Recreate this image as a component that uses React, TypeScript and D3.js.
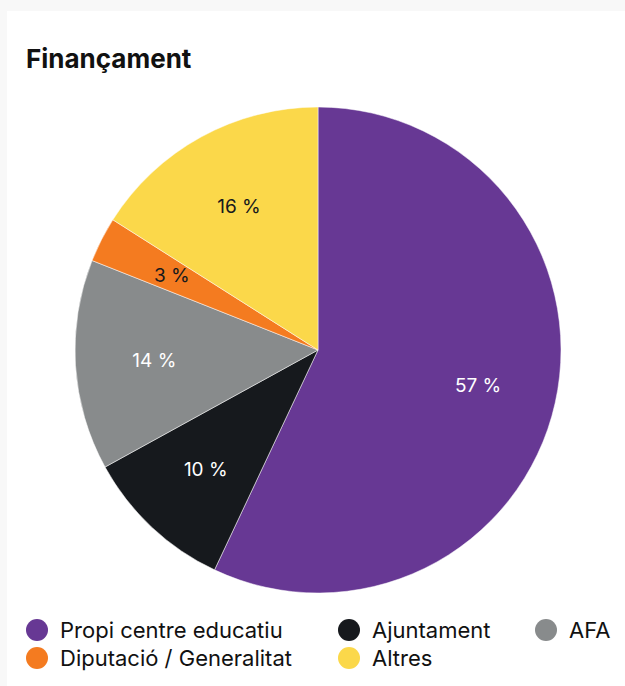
import React from "react";
import * as d3 from "d3";

const categories = ["Propi centre educatiu", "Ajuntament", "AFA", "Diputació / Generalitat", "Altres"];
const values = [57, 10, 14, 3, 16];
const colors = ["#673894", "#16191d", "#888b8c", "#f47b20", "#fbd84a"];
const labelColors = ["#ffffff", "#ffffff", "#ffffff", "#16191d", "#16191d"];
const legendOrder = [0, 1, 2, 3, 4];

export default function App() {
  const W = 625, H = 686;
  const cx = 318, cy = 350, R = 243;
  const pie = d3.pie<number>().sort(null).value((d) => d)(values);
  const arc = d3.arc<d3.PieArcDatum<number>>().innerRadius(0).outerRadius(R);
  const labelArc = d3.arc<d3.PieArcDatum<number>>().innerRadius(164).outerRadius(164);
  const font = "Inter, 'Noto Sans', sans-serif";
  const legendPos = [
    { x: 37, y: 630 },
    { x: 349, y: 630 },
    { x: 546, y: 630 },
    { x: 37, y: 658 },
    { x: 349, y: 658 },
  ];
  return (
    <svg width={W} height={H} style={{ position: "absolute", left: 0, top: 0, display: "block" }}>
      <rect x={0} y={0} width={W} height={H} fill="#f8f8f8" />
      <rect x={7} y={11} width={W - 7} height={H - 11} fill="#ffffff" />
      <text x={26} y={68} fontFamily={font} fontWeight={700} fontSize={26} fill="#111">
        Finançament
      </text>
      <g transform={`translate(${cx},${cy})`}>
        {pie.map((p, i) => (
          <path key={i} d={arc(p) || ""} fill={colors[i]} stroke="#ffffff" strokeWidth={0.5} />
        ))}
        {pie.map((p, i) => {
          const [x, y] = labelArc.centroid(p);
          return (
            <text key={i} x={x} y={y} dy="0.35em" textAnchor="middle" fontFamily={font} fontSize={19} fill={labelColors[i]}>
              {values[i]} %
            </text>
          );
        })}
      </g>
      {legendOrder.map((i, k) => (
        <g key={i} transform={`translate(${legendPos[k].x},${legendPos[k].y})`}>
          <circle r={11} fill={colors[i]} />
          <text x={23} dy="0.36em" fontFamily={font} fontSize={22} fill="#111">
            {categories[i]}
          </text>
        </g>
      ))}
    </svg>
  );
}
